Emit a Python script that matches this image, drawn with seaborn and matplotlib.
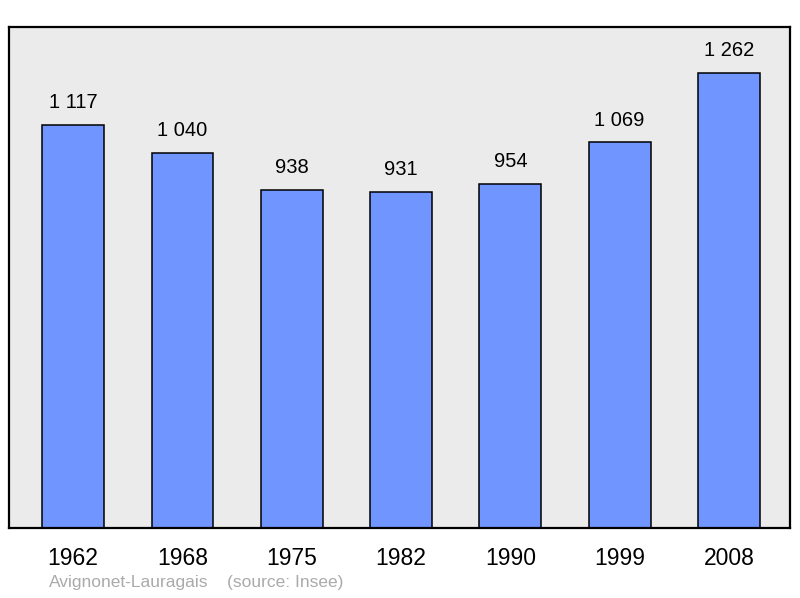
"""
Population bar chart for Avignonet-Lauragais
"""
import matplotlib
matplotlib.use("Agg")
import matplotlib.pyplot as plt
import seaborn as sns
import pandas as pd

years = ["1962", "1968", "1975", "1982", "1990", "1999", "2008"]
population = [1117, 1040, 938, 931, 954, 1069, 1262]
commune = "Avignonet-Lauragais"
source = "(source: Insee)"


def fmt(v):
    # French style thousands separator
    return f"{v:,}".replace(",", " ")


def main():
    sns.set_theme(style="white")
    plt.rcParams["font.family"] = ["Liberation Sans", "DejaVu Sans"]

    df = pd.DataFrame({"year": years, "population": population})

    fig = plt.figure(figsize=(8, 5.98), dpi=100)
    ax = fig.add_axes([9 / 800, 1 - 528 / 598, 781 / 800, 501 / 598])
    ax.set_facecolor("#ebebeb")

    sns.barplot(data=df, x="year", y="population", color="#7095ff",
                saturation=1, width=0.565, edgecolor="black", linewidth=1.1, ax=ax)

    for i, v in enumerate(population):
        ax.annotate(fmt(v), (i, v), xytext=(0, 16), textcoords="offset points",
                    ha="center", va="center", fontsize=14.5, color="black")

    ax.set_xlim(-0.586, 6.558)
    ax.set_ylim(0, 1389)
    ax.set_xlabel("")
    ax.set_ylabel("")
    ax.set_yticks([])
    ax.tick_params(axis="x", length=0, pad=14, labelsize=16.5, labelcolor="black")
    for s in ax.spines.values():
        s.set_visible(True)
        s.set_color("black")
        s.set_linewidth(1.6)

    fig.text(49 / 800, 1 - 583 / 598, commune, fontsize=12.5, color="#aaaaaa", va="center")
    fig.text(227 / 800, 1 - 583 / 598, source, fontsize=12.5, color="#aaaaaa", va="center")

    fig.savefig("out.png", dpi=100, facecolor="white")


if __name__ == "__main__":
    main()
